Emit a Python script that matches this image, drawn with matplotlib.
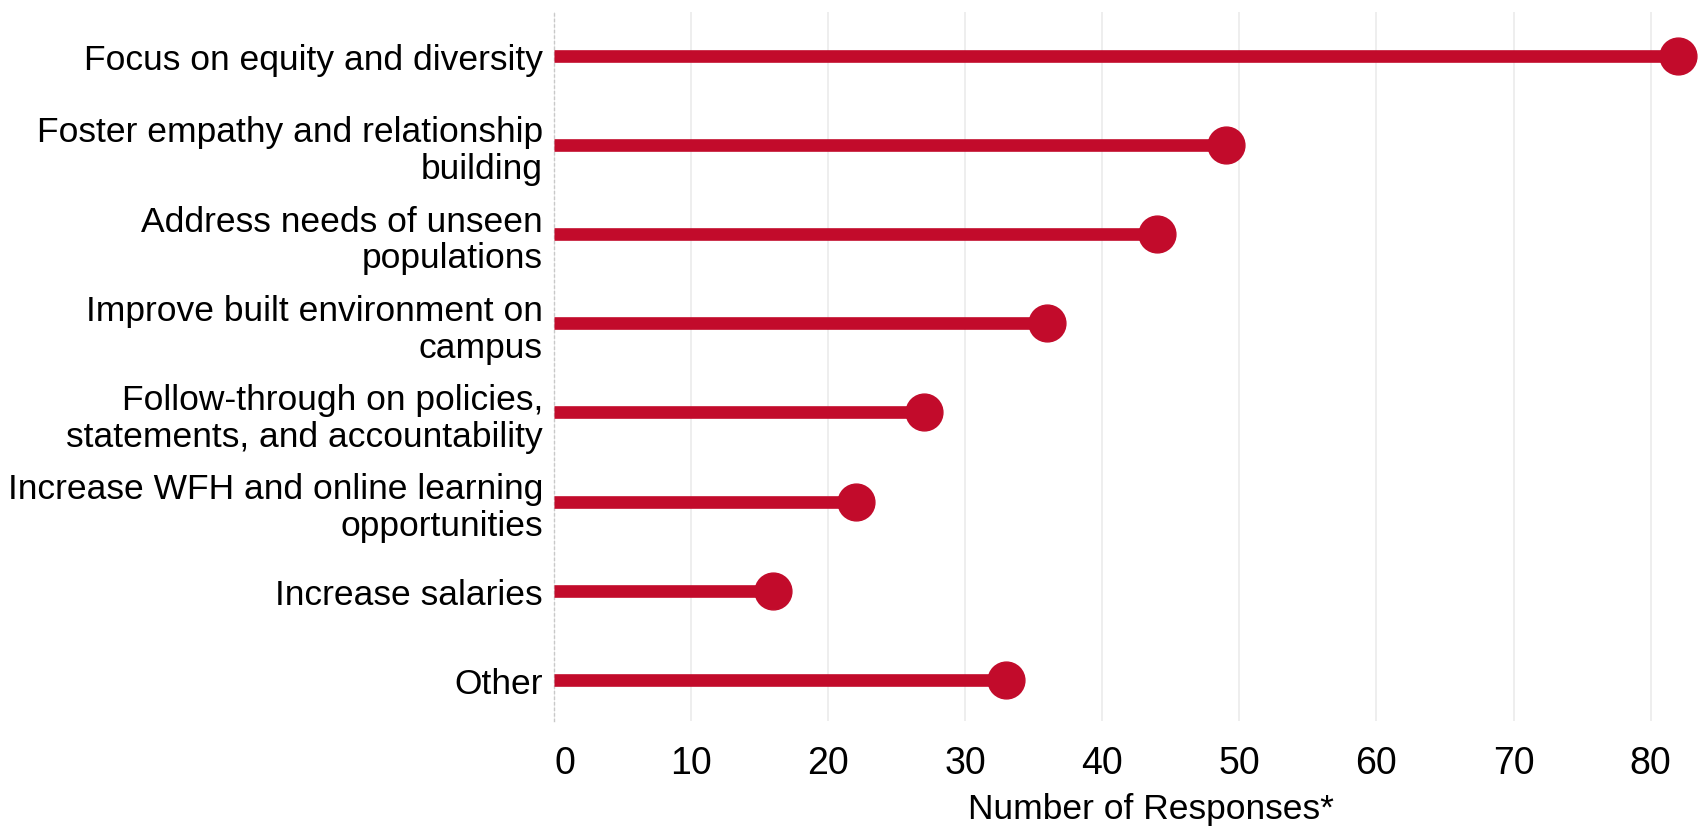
import matplotlib
matplotlib.use("Agg")
import matplotlib.pyplot as plt

categories = [
    "Focus on equity and diversity",
    "Foster empathy and relationship\nbuilding",
    "Address needs of unseen\npopulations",
    "Improve built environment on\ncampus",
    "Follow-through on policies,\nstatements, and accountability",
    "Increase WFH and online learning\nopportunities",
    "Increase salaries",
    "Other",
]
values = [82, 49, 44, 36, 27, 22, 16, 33]
xticks = [0, 10, 20, 30, 40, 50, 60, 70, 80]
color = "#C20B2B"

plt.rcParams['font.family'] = ['Liberation Sans', 'DejaVu Sans']
FS = 25.5

fig = plt.figure(figsize=(17.03, 8.29), dpi=100)
ax = fig.add_axes([554/1703, 1 - 722/829, (1700-554)/1703, (722-13)/829])

ypos = list(range(len(categories)))
ax.hlines(ypos, 0, values, color=color, linewidth=9.1, capstyle='butt', zorder=3)
ax.plot(values, ypos, 'o', color=color, markersize=26.5, zorder=4, clip_on=False)

ax.set_xlim(0, 83.6)
ax.set_ylim(7.46, -0.49)
ax.set_xticks(xticks)
ax.set_xticklabels([str(t) for t in xticks], fontsize=27)
ax.get_xticklabels()[0].set_horizontalalignment('left')
ax.set_yticks(ypos)
ax.set_yticklabels(categories, fontsize=FS, linespacing=1.15)
ax.tick_params(axis='both', length=0)
ax.tick_params(axis='y', pad=8)
ax.tick_params(axis='x', pad=17)
ax.grid(axis='x', color='#ebebeb', linewidth=1.2, zorder=0)
ax.set_axisbelow(True)
for s in ['top', 'right', 'bottom']:
    ax.spines[s].set_visible(False)
ax.spines['left'].set_color('#c8c8c8')
ax.spines['left'].set_linestyle((0, (1.5, 2.5)))
ax.spines['left'].set_linewidth(1)

ax.set_xlabel("Number of Responses*", fontsize=FS)
ax.xaxis.label.set_va('center')
ax.xaxis.set_label_coords((1151-554)/(1700-554), (722-810)/709)

fig.savefig("out.png", dpi=100)
